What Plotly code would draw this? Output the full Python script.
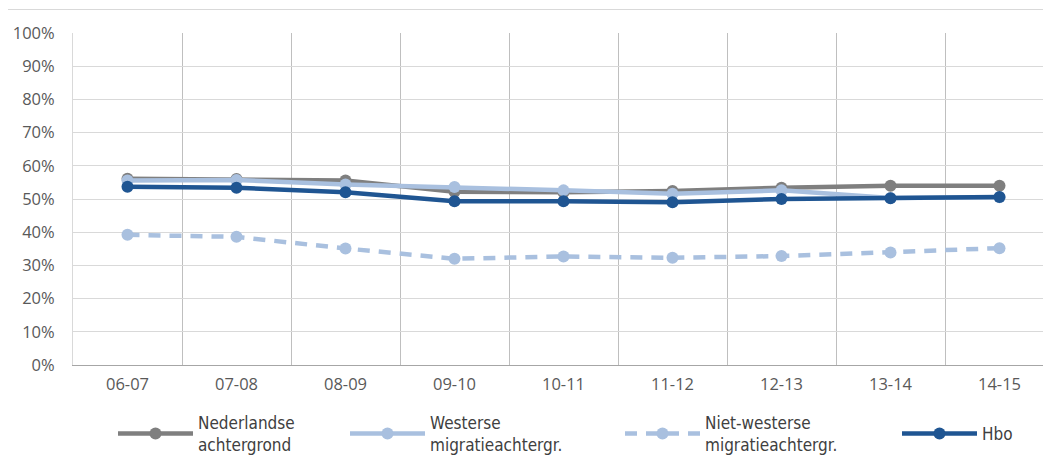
import plotly.graph_objects as go

categories = ["06-07", "07-08", "08-09", "09-10", "10-11", "11-12", "12-13", "13-14", "14-15"]
nederlandse = [56.1, 56.0, 55.6, 52.2, 52.0, 52.4, 53.4, 54.0, 54.0]
westerse = [55.6, 55.7, 54.4, 53.6, 52.6, 51.6, 52.6, 50.3, 50.5]
niet_westerse = [39.2, 38.6, 35.1, 32.0, 32.7, 32.3, 32.8, 33.9, 35.2]
hbo = [53.7, 53.4, 52.0, 49.3, 49.3, 49.0, 50.0, 50.2, 50.6]
series_names = ["Nederlandse<br>achtergrond", "Westerse<br>migratieachtergr.",
                "Niet-westerse<br>migratieachtergr.", "Hbo"]
y_ticks = list(range(0, 101, 10))
y_tick_labels = [f"{v}%" for v in y_ticks]

OFF = 8  # page body margin
W, H = 1051 - OFF, 457 - OFF
# target absolute plot box: left 73, top 33, bottom 365
L, R, T = 73 - OFF, 0, 33 - OFF
B = H - (365 - OFF)
pw, ph = W - L - R, H - T - B


def px_x(x):
    return (x - OFF - L) / pw


def px_y(y):
    return (H - B - (y - OFF)) / ph


colors = ["#7f7f7f", "#a9c0df", "#a9c0df", "#1f5592"]
dashes = ["solid", "solid", "12px,9px", "solid"]
data = [nederlandse, westerse, niet_westerse, hbo]
legend_ids = ["legend", "legend2", "legend3", "legend4"]
legend_x = [113, 345, 620, 897]

fig = go.Figure()
for name, vals, c, d, lg in zip(series_names, data, colors, dashes, legend_ids):
    fig.add_trace(go.Scatter(
        x=categories, y=vals, name=name, mode="lines+markers",
        line=dict(color=c, width=4.5, dash=d),
        marker=dict(color=c, size=12),
        legend=lg,
    ))

font_txt = dict(family="DejaVu Sans Condensed", size=17, color="#404040")
layout_legends = {}
for lg, lx in zip(legend_ids, legend_x):
    layout_legends[lg] = dict(
        x=px_x(lx), xanchor="left", y=px_y(434), yanchor="middle",
        orientation="h", font=font_txt, bgcolor="rgba(0,0,0,0)",
        itemwidth=75,
    )

tick_font = dict(family="Open Sans", size=16.5, color="#595959")

fig.update_layout(
    width=W, height=H,
    margin=dict(l=L, r=R, t=T, b=B, autoexpand=False),
    paper_bgcolor="white", plot_bgcolor="white",
    showlegend=True,
    font=dict(family="Open Sans", size=15, color="#595959"),
    xaxis=dict(
        type="category", range=[-0.5, (pw / 109) - 0.5],
        tickson="boundaries", showgrid=True, gridcolor="#bfbfbf", gridwidth=1,
        showline=True, linecolor="#a6a6a6", linewidth=1,
        ticks="", tickfont=tick_font, ticklabelstandoff=4,
        fixedrange=True, automargin=False,
    ),
    yaxis=dict(
        range=[0, 100], tickvals=y_ticks, ticktext=y_tick_labels,
        showgrid=True, gridcolor="#d9d9d9", gridwidth=1,
        showline=True, linecolor="#d9d9d9", zeroline=False,
        ticks="", ticklabelstandoff=14,
        tickfont=tick_font, automargin=False,
    ),
    shapes=[
        dict(type="path", xref="paper", yref="paper",
             path=f"M {px_x(5.5)} {px_y(470)} L {px_x(5.5)} {px_y(9.5)} L {px_x(1060)} {px_y(9.5)}",
             line=dict(color="#d9d9d9", width=1)),
    ],
    **layout_legends,
)

fig.write_html("out.html")
